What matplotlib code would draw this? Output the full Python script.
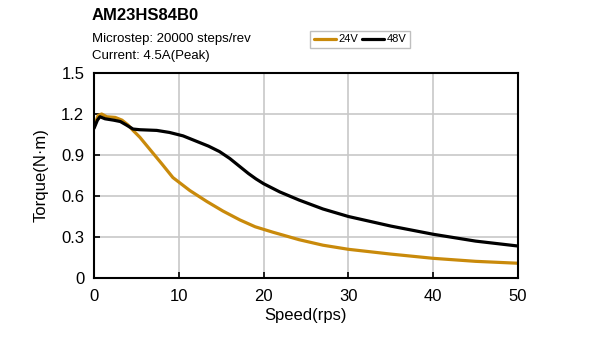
import numpy as np
import matplotlib.pyplot as plt

plt.rcParams['font.family'] = ['Liberation Sans', 'DejaVu Sans']

# torque curves (speed in rps, torque in N.m)
speed_24v = [0, 0.5, 0.9, 1.5, 2.5, 3.3, 4.0, 4.6, 5.4, 6.2, 7.0, 8.0, 9.3, 11.3, 13.3, 15.2, 17.2, 19.0, 21.1,
             24.2, 27, 30, 35, 40, 45, 50]
torque_24v = [1.107, 1.19, 1.20, 1.18, 1.175, 1.155, 1.12, 1.08, 1.03, 0.97, 0.91, 0.835, 0.735, 0.64, 0.56, 0.49,
              0.425, 0.375, 0.335, 0.28, 0.24, 0.21, 0.175, 0.144, 0.122, 0.108]

speed_48v = [0, 0.4, 0.7, 1.3, 2.3, 3.1, 3.8, 4.6, 5.4, 7.4, 8.9, 10.5, 12.1, 13.5, 14.8, 16, 17.2, 18.2,
             19.1, 20, 21.9, 24.2, 27, 30, 35, 40, 45, 50]
torque_48v = [1.095, 1.155, 1.18, 1.165, 1.155, 1.145, 1.12, 1.09, 1.085, 1.08, 1.065, 1.04, 1.0, 0.965, 0.925,
              0.875, 0.815, 0.765, 0.725, 0.69, 0.63, 0.57, 0.505, 0.45, 0.38, 0.32, 0.27, 0.234]

xticks = [0, 10, 20, 30, 40, 50]
yticks = [0, 0.3, 0.6, 0.9, 1.2, 1.5]
yticklabels = ['0', '0.3', '0.6', '0.9', '1.2', '1.5']

fig = plt.figure(figsize=(5.97, 3.52), dpi=100)
ax = fig.add_axes([0.1575, 0.2102, 0.7102, 0.5824])

ax.plot(speed_24v, torque_24v, color='#C98A0B', lw=2.3, label='24V',
        solid_capstyle='round', solid_joinstyle='round')
ax.plot(speed_48v, torque_48v, color='black', lw=2.3, label='48V',
        solid_capstyle='round', solid_joinstyle='round')

ax.set_xlim(0, 50)
ax.set_ylim(0, 1.5)
ax.set_xticks(xticks)
ax.set_yticks(yticks)
ax.set_yticklabels(yticklabels)
ax.grid(True, color='#c8c8c8', lw=1.2)
ax.set_axisbelow(True)
ax.tick_params(direction='in', length=4, width=1.2, labelsize=12)
ax.tick_params(axis='x', pad=8)
ax.tick_params(axis='y', pad=7)
for s in ax.spines.values():
    s.set_linewidth(1.5)

ax.set_xlabel('Speed(rps)', fontsize=12, labelpad=3)
ax.set_ylabel('Torque(N·m)', fontsize=12, labelpad=9)

fig.text(0.154, 0.955, 'AM23HS84B0', fontsize=12, fontweight='bold', va='center')
fig.text(0.154, 0.888, 'Microstep: 20000 steps/rev', fontsize=9.5, va='center')
fig.text(0.154, 0.842, 'Current: 4.5A(Peak)', fontsize=9.5, va='center')

leg = ax.legend(loc='center', bbox_to_anchor=(0.603, 0.888), bbox_transform=fig.transFigure,
                ncol=2, fontsize=8, frameon=True, fancybox=False, handlelength=2.0,
                handletextpad=0.2, columnspacing=0.4, borderpad=0.35)
leg.get_frame().set_edgecolor('#b0b0b0')
leg.get_frame().set_linewidth(1.0)

fig.savefig('out.png', dpi=100)
